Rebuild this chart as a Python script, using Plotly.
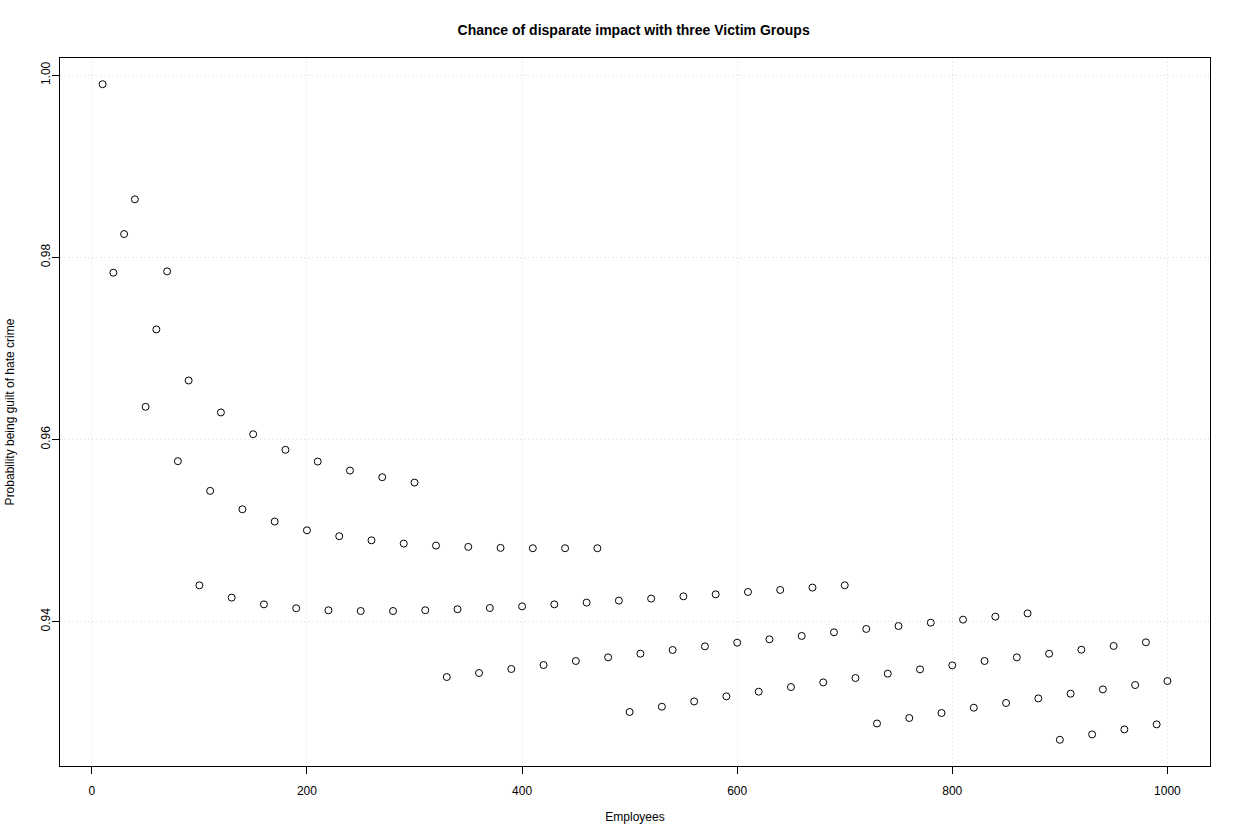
import plotly.graph_objects as go

employees = list(range(10, 1001, 10))
probability = [
    0.99901, 0.97832, 0.98256, 0.98637, 0.96359, 0.97209, 0.97846, 0.95762, 0.96648, 0.94399,
    0.95436, 0.96297, 0.94264, 0.95234, 0.96058, 0.94190, 0.95099, 0.95887, 0.94147, 0.95003,
    0.95758, 0.94125, 0.94938, 0.95659, 0.94117, 0.94893, 0.95586, 0.94117, 0.94857, 0.95527,
    0.94125, 0.94835, 0.93392, 0.94136, 0.94821, 0.93436, 0.94150, 0.94810, 0.93480, 0.94168,
    0.94806, 0.93524, 0.94190, 0.94806, 0.93568, 0.94209, 0.94806, 0.93608, 0.94231, 0.93008,
    0.93648, 0.94253, 0.93066, 0.93689, 0.94278, 0.93124, 0.93729, 0.94300, 0.93180, 0.93769,
    0.94326, 0.93231, 0.93806, 0.94348, 0.93282, 0.93843, 0.94374, 0.93333, 0.93883, 0.94399,
    0.93381, 0.93920, 0.92882, 0.93429, 0.93952, 0.92942, 0.93476, 0.93989, 0.92997, 0.93520,
    0.94022, 0.93055, 0.93568, 0.94055, 0.93107, 0.93608, 0.94091, 0.93157, 0.93648, 0.92703,
    0.93209, 0.93692, 0.92762, 0.93256, 0.93733, 0.92817, 0.93304, 0.93773, 0.92872, 0.93348,
]
x_ticks = [0, 200, 400, 600, 800, 1000]
y_ticks = [0.94, 0.96, 0.98, 1.00]

title = "Chance of disparate impact with three Victim Groups"
x_title = "Employees"
y_title = "Probability being guilt of hate crime"

FONT = "Liberation Sans, Arial, Helvetica, sans-serif"

fig = go.Figure()
fig.add_trace(go.Scatter(
    x=employees, y=probability, mode="markers",
    marker=dict(symbol="circle-open", size=7, color="black", line=dict(width=1, color="black")),
    showlegend=False, hoverinfo="x+y",
))

fig.update_layout(
    width=1240, height=840,
    paper_bgcolor="white", plot_bgcolor="white",
    margin=dict(l=60, r=30, t=58, b=74),
    font=dict(family=FONT, size=12, color="black"),
    title=dict(text="<b>" + title + "</b>", x=0.511, xanchor="center", y=1 - 30 / 840, yanchor="middle",
               font=dict(family=FONT, size=14, color="black")),
    xaxis=dict(
        range=[-29.6, 1039.6], tickvals=x_ticks, ticktext=[str(v) for v in x_ticks],
        ticks="outside", ticklen=7, tickcolor="black", showline=True, linecolor="black", linewidth=1,
        mirror=True, showgrid=True, gridcolor="#dcdcdc", griddash="1px,3px", gridwidth=1, zeroline=False,
        ticklabelstandoff=7, automargin=False,
        title=dict(text=x_title, standoff=15, font=dict(size=12)), tickfont=dict(size=12),
    ),
    yaxis=dict(
        range=[0.92415, 1.00189], tickvals=y_ticks, ticktext=["%.2f" % v for v in y_ticks],
        ticks="outside", ticklen=7, tickcolor="black", showline=True, linecolor="black", linewidth=1,
        mirror=True, showgrid=True, gridcolor="#dcdcdc", griddash="1px,3px", gridwidth=1, zeroline=False,
        ticklabelstandoff=-3, automargin=False,
        tickangle=-90, title=dict(text=y_title, standoff=22, font=dict(size=12)), tickfont=dict(size=12),
    ),
)

fig.write_html("out.html", config={"displayModeBar": False},
               post_script="document.body.style.margin='0';")
